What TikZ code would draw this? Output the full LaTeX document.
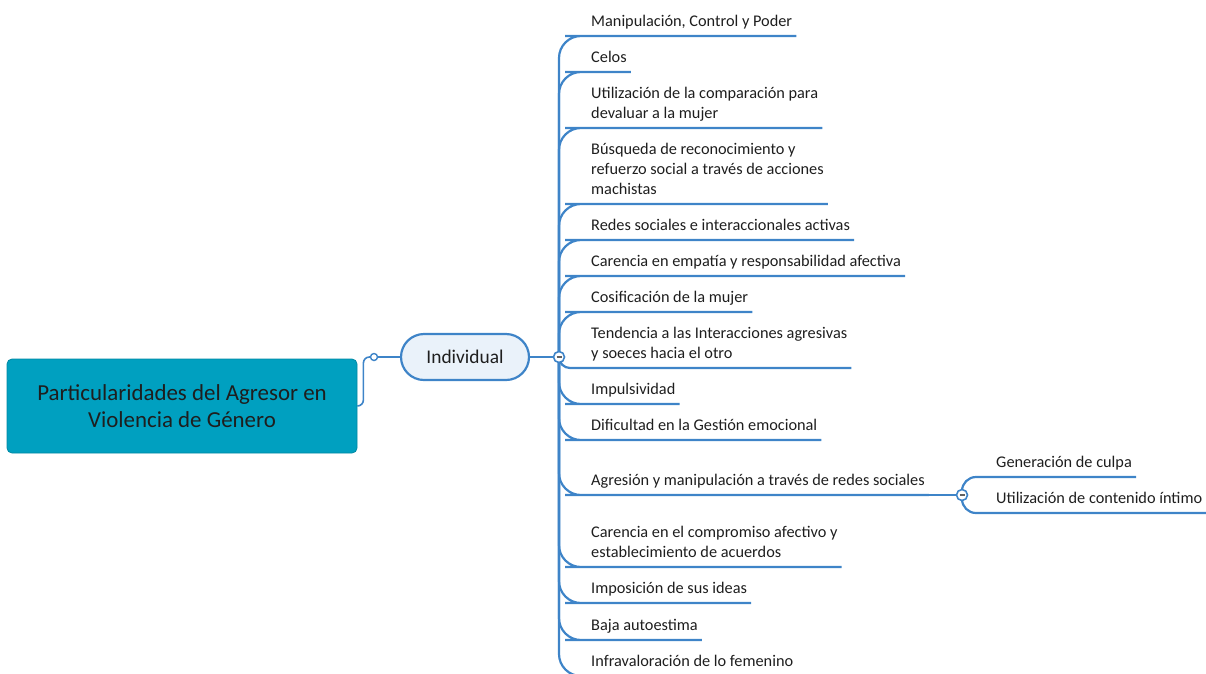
\documentclass[tikz,border=0pt]{standalone}
\usepackage{fontspec}
\setmainfont{Carlito}
\definecolor{mmblue}  {RGB}{62,132,200}
\definecolor{mmteal}  {RGB}{0,160,192}
\definecolor{mmlight} {RGB}{234,242,250}
\definecolor{mmtext}  {RGB}{30,30,30}
\usetikzlibrary{backgrounds}
\tikzset{
  rootbox/.style={rectangle,rounded corners=5pt,draw=mmteal!85!black,fill=mmteal,
              line width=0.8pt,text=mmtext,minimum width=350pt,minimum height=94pt,
              align=center,font=\fontsize{22.9}{27}\selectfont},
  topicbox/.style={rectangle,rounded corners=23pt,draw=mmblue,fill=mmlight,
              line width=2.2pt,text=mmtext,minimum width=128pt,minimum height=46pt,
              font=\fontsize{19.4}{23}\selectfont},
  leaf/.style={anchor=south west,inner xsep=4pt,inner ysep=5pt,text depth=4pt,
              align=left,text=mmtext,font=\fontsize{16.3}{20}\selectfont},
  branch/.style={mmblue,line width=2.2pt},
  knob/.style={circle,draw=mmblue,fill=white,line width=1.6pt,minimum size=11pt,
              inner sep=0pt,path picture={\draw[mmtext!70,line width=1.4pt]
              ([xshift=-2.5pt]path picture bounding box.center)
              --([xshift=2.5pt]path picture bounding box.center);}},
  dot/.style={circle,draw=mmblue,fill=white,line width=1.4pt,minimum size=7pt,inner sep=0pt},
}
\begin{document}
\begin{tikzpicture}[x=1pt,y=-1pt]
  \useasboundingbox (0,0) rectangle (1206,673);
  \node[rootbox] (root) at (182,406) {Particularidades del Agresor en\\Violencia de Género};
  \node[topicbox] (ind) at (465,357) {Individual};
  \node[dot] (jt) at (374,357) {};
  \node[knob] (cI) at (559,357) {};
  \node[knob] (cA) at (962,495) {};
  % temas del nivel individual
  \foreach \y/\r/\txt [count=\i] in {
    36/22pt/{Manipulación, Control y Poder},
    72/22pt/{Celos},
    128/22pt/{Utilización de la comparación para\\devaluar a la mujer},
    204/22pt/{Búsqueda de reconocimiento y\\refuerzo social a través de acciones\\machistas},
    240/22pt/{Redes sociales e interaccionales activas},
    276/22pt/{Carencia en empatía y responsabilidad afectiva},
    312/22pt/{Cosificación de la mujer},
    368/11pt/{Tendencia a las Interacciones agresivas\\y soeces hacia el otro},
    404/22pt/{Impulsividad},
    440/22pt/{Dificultad en la Gestión emocional},
    495/22pt/{Agresión y manipulación a través de redes sociales},
    567/22pt/{Carencia en el compromiso afectivo y\\establecimiento de acuerdos},
    603/22pt/{Imposición de sus ideas},
    640/22pt/{Baja autoestima},
    676/22pt/{Infravaloración de lo femenino}}{
    \node[leaf] (l\i) at (587,\y) {\txt};
    \begin{scope}[on background layer]
      \draw[branch,rounded corners=\r] (cI.center) |- (l\i.south west) -- (l\i.south east);
    \end{scope}
  }
  % subtemas de redes sociales
  \node[leaf] (s1) at (992,477) {Generación de culpa};
  \node[leaf] (s2) at (992,513) {Utilización de contenido íntimo};
  \begin{scope}[on background layer]
    \draw[branch,line width=1.6pt,rounded corners=6pt] (root.east) -- ++(6,0) |- (jt);
    \draw[branch] (jt) -- (ind);
    \draw[branch] (ind) -- (cI);
    \draw[branch] (l11.south east) -- (cA);
    \draw[branch,rounded corners=14pt] (cA.center) |- (s1.south west) -- (s1.south east);
    \draw[branch,rounded corners=14pt] (cA.center) |- (s2.south west) -- (s2.south east);
  \end{scope}
\end{tikzpicture}
\end{document}
